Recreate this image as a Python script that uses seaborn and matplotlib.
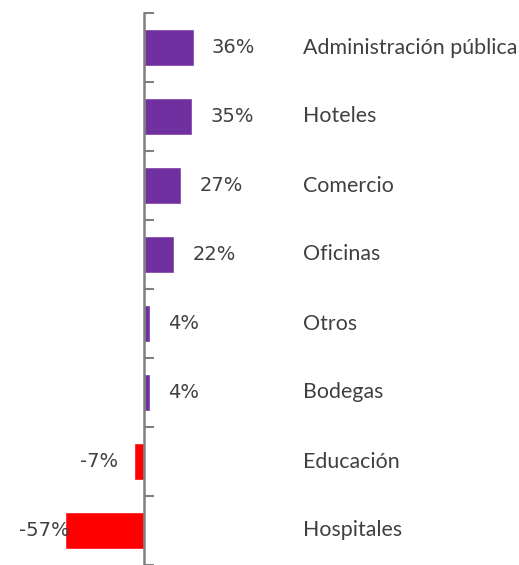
import matplotlib
matplotlib.use("Agg")
import matplotlib.pyplot as plt
import matplotlib.transforms as mtransforms
import seaborn as sns
import numpy as np
import pandas as pd

categories = ["Administración pública", "Hoteles", "Comercio", "Oficinas",
              "Otros", "Bodegas", "Educación", "Hospitales"]
values = [36, 35, 27, 22, 4, 4, -7, -57]
value_labels = ["36%", "35%", "27%", "22%", "4%", "4%", "-7%", "-57%"]

sns.set_style("white")
plt.rcParams['font.family'] = ['Lato', 'DejaVu Sans']

PURPLE = "#7030A0"
RED = "#FF0000"
colors = [PURPLE if v >= 0 else RED for v in values]

df = pd.DataFrame({"cat": categories, "val": values})

fig = plt.figure(figsize=(5.19, 5.65), dpi=100)
W, H = 519, 565
ax = fig.add_axes([0, 0, 1, 552 / H])

sns.barplot(data=df, x="val", y="cat", hue="cat", palette=colors,
            orient="h", width=0.53, legend=False, ax=ax, saturation=1)

scale = 1.38  # px per unit
ax.set_xlim(-144 / scale, (W - 144) / scale)
ax.set_ylim(len(categories) - 0.5, -0.5)

for s in ["top", "right", "bottom"]:
    ax.spines[s].set_visible(False)
ax.spines["left"].set_position(("data", 0))
ax.spines["left"].set_color("#808080")
ax.spines["left"].set_linewidth(1.8)

ax.set_yticks(np.arange(-0.5, len(categories), 1.0))
ax.set_yticklabels([])
ax.set_xticks([])
ax.tick_params(axis="y", direction="in", length=7, width=1.5, color="#808080", left=True)
ax.set_xlabel("")
ax.set_ylabel("")

txt_color = "#404040"
vfs = 14
lfs = 15.4
for i, (v, lab) in enumerate(zip(values, value_labels)):
    if v >= 0:
        ax.annotate(lab, (v, i), xytext=(13, 0), textcoords="offset points",
                    ha="left", va="center", fontsize=vfs, color=txt_color,
                    family="DejaVu Sans")
    else:
        bar_px = 144 + v * scale
        off = -12 if bar_px - 70 > 0 else 3
        ax.annotate(lab, (v, i), xytext=(off, 0), textcoords="offset points",
                    ha="right", va="center", fontsize=vfs, color=txt_color,
                    family="DejaVu Sans")

trans = mtransforms.blended_transform_factory(ax.transAxes, ax.transData)
for i, c in enumerate(categories):
    ax.text(303 / W, i, c, transform=trans, ha="left", va="center",
            fontsize=lfs, color=txt_color)

fig.savefig("out.png", dpi=100)
